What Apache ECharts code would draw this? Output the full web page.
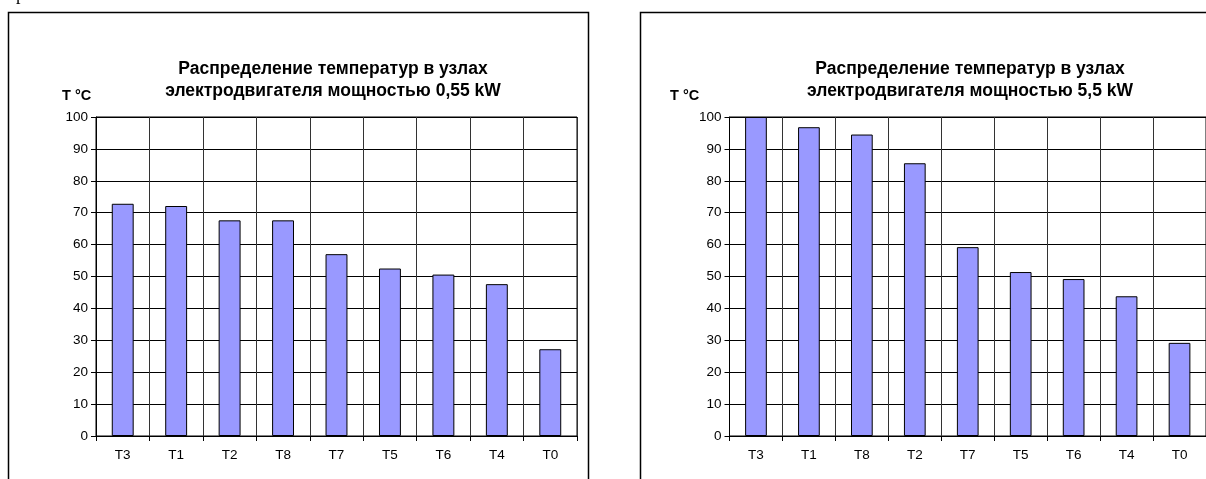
<!DOCTYPE html>
<html>
<head>
<meta charset="utf-8">
<script src="https://cdn.jsdelivr.net/npm/echarts@6/dist/echarts.min.js"></script>
<style>html,body{margin:0;padding:0;background:#fff;}#c{width:1206px;height:479px;}</style>
</head>
<body>
<div id="c"></div>
<script>
const categoriesA = ['T3','T1','T2','T8','T7','T5','T6','T4','T0'];
const valuesA = [72.8, 72.1, 67.6, 67.6, 57.0, 52.5, 50.6, 47.6, 27.2];
const categoriesB = ['T3','T1','T8','T2','T7','T5','T6','T4','T0'];
const valuesB = [100, 96.8, 94.5, 85.5, 59.2, 51.4, 49.2, 43.8, 29.2];
const titleA = 'Распределение температур в узлах\nэлектродвигателя мощностью 0,55 kW';
const titleB = 'Распределение температур в узлах\nэлектродвигателя мощностью 5,5 kW';
const unitLabel = 'T °C';
const yTicks = {min: 0, max: 100, interval: 10};

const chart = echarts.init(document.getElementById('c'), null, {renderer: 'canvas'});
const font = 'Arial, "Liberation Sans", sans-serif';

function xAxis(idx, cats) {
  return {
    type: 'category', gridIndex: idx, data: cats, boundaryGap: true,
    axisLine: {show: true, lineStyle: {color: '#000', width: 1}},
    axisTick: {show: true, length: 5, inside: false, lineStyle: {color: '#000'}},
    axisLabel: {color: '#000', fontFamily: font, fontSize: 13.5, margin: 12},
    splitLine: {show: true, lineStyle: {color: '#333', width: 1}}
  };
}
function yAxis(idx) {
  return {
    type: 'value', gridIndex: idx, min: yTicks.min, max: yTicks.max, interval: yTicks.interval,
    axisLine: {show: true, lineStyle: {color: '#000', width: 1}},
    axisTick: {show: true, length: 5, lineStyle: {color: '#000'}},
    axisLabel: {color: '#000', fontFamily: font, fontSize: 13.5, margin: 8},
    splitLine: {show: true, lineStyle: {color: '#000', width: 1}}
  };
}
function bars(idx, vals) {
  return {
    type: 'bar', xAxisIndex: idx, yAxisIndex: idx, data: vals, barWidth: '41%',
    itemStyle: {color: '#9999FF', borderColor: '#000', borderWidth: 1},
    emphasis: {disabled: true}, animation: false
  };
}

chart.setOption({
  animation: false,
  backgroundColor: '#fff',
  title: [
    {text: titleA, left: 328, top: 53, textAlign: 'center',
     textStyle: {fontFamily: font, fontWeight: 'bold', fontSize: 17.5, color: '#000', lineHeight: 22}},
    {text: titleB, left: 965, top: 53, textAlign: 'center',
     textStyle: {fontFamily: font, fontWeight: 'bold', fontSize: 17.5, color: '#000', lineHeight: 22}}
  ],
  graphic: [
    {type: 'rect', shape: {x: 8.5, y: 12.5, width: 580, height: 480}, style: {fill: 'none', stroke: '#000', lineWidth: 1.5}, silent: true},
    {type: 'rect', shape: {x: 640.5, y: 12.5, width: 600, height: 480}, style: {fill: 'none', stroke: '#000', lineWidth: 1.5}, silent: true},
    {type: 'text', left: 16, top: -14, style: {text: 'р', font: '18px "Liberation Serif", "Times New Roman", serif', fill: '#000'}},
    {type: 'text', left: 62, top: 88, style: {text: unitLabel, font: 'bold 14.5px ' + font, fill: '#000'}},
    {type: 'text', left: 670, top: 88, style: {text: unitLabel, font: 'bold 14.5px ' + font, fill: '#000'}}
  ],
  grid: [
    {left: 96, top: 117, width: 481, height: 319, show: true, borderColor: '#000', borderWidth: 1},
    {left: 729.5, top: 117, width: 479, height: 319, show: true, borderColor: '#000', borderWidth: 1}
  ],
  xAxis: [xAxis(0, categoriesA), xAxis(1, categoriesB)],
  yAxis: [yAxis(0), yAxis(1)],
  series: [bars(0, valuesA), bars(1, valuesB)]
});
</script>
</body>
</html>
